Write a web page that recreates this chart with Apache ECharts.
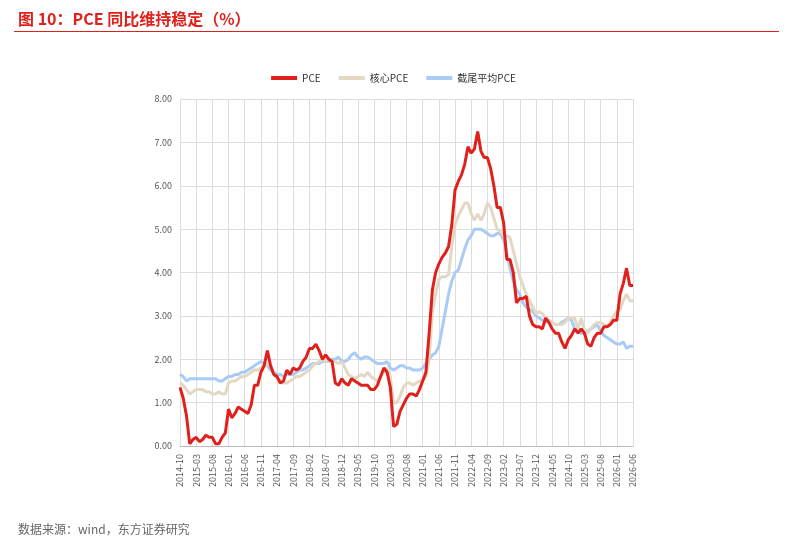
<!DOCTYPE html>
<html><head><meta charset="utf-8">
<script src="https://cdn.jsdelivr.net/npm/echarts@6/dist/echarts.min.js"></script>
<style>
body{margin:0;background:#fff;font-family:"Noto Sans CJK SC",sans-serif;}
#title{position:absolute;left:18px;top:6px;color:#e0201b;font-size:16px;font-weight:bold;}
#rule{position:absolute;left:14px;right:8px;top:31px;border-top:1px solid #e0201b;}
#src{position:absolute;left:18px;top:520px;color:#666;font-size:12px;}
#chart{position:absolute;left:0;top:0;width:787px;height:542px;}
</style></head>
<body>
<div id="chart"></div>
<div id="title">图 10：PCE 同比维持稳定（%）</div>
<div id="rule"></div>
<div id="src">数据来源：wind，东方证券研究</div>
<script>
var months = [];
(function(){ var y=2014, m=10; for (var i=0;i<141;i++){ months.push(y+'-'+(m<10?'0':'')+m); m++; if(m>12){m=1;y++;} } })();

var pce = [
  1.35,1.1,0.7,
  0.05,0.15,0.2,0.1,0.15,0.25,0.2,0.2,0.05,0.05,0.2,0.3,
  0.85,0.65,0.75,0.9,0.85,0.8,0.75,0.95,1.4,1.4,1.7,1.85,
  2.2,1.85,1.65,1.6,1.45,1.5,1.75,1.65,1.8,1.75,1.8,1.95,
  2.05,2.25,2.25,2.35,2.2,2.0,2.1,2.0,1.95,1.45,1.4,1.55,
  1.45,1.4,1.55,1.5,1.45,1.4,1.4,1.4,1.3,1.3,1.4,1.6,
  1.8,1.7,1.35,0.45,0.5,0.8,0.95,1.1,1.2,1.2,1.15,1.3,
  1.5,1.7,2.6,3.6,4.0,4.2,4.35,4.45,4.6,5.1,5.9,6.1,
  6.25,6.5,6.9,6.75,6.85,7.25,6.8,6.65,6.65,6.4,6.0,5.5,
  5.5,5.15,4.3,4.3,4.0,3.3,3.4,3.4,3.45,3.0,2.8,2.75,
  2.75,2.7,2.95,2.85,2.7,2.6,2.6,2.4,2.25,2.45,2.55,2.7,
  2.6,2.7,2.6,2.35,2.3,2.5,2.6,2.6,2.75,2.75,2.8,2.9,
  2.9,3.5,3.75,4.1,3.7,3.7
];
var corePce = [
  1.45,1.4,1.3,
  1.2,1.25,1.3,1.3,1.3,1.25,1.25,1.2,1.2,1.25,1.2,1.2,
  1.45,1.5,1.5,1.55,1.6,1.6,1.65,1.7,1.75,1.75,1.8,1.85,
  1.9,1.85,1.65,1.55,1.5,1.45,1.45,1.5,1.55,1.6,1.6,1.65,
  1.7,1.75,1.85,1.9,1.95,2.0,1.95,2.0,1.95,1.95,1.9,1.95,
  1.8,1.65,1.6,1.55,1.6,1.65,1.6,1.7,1.6,1.55,1.5,1.6,
  1.7,1.8,1.6,1.0,1.0,1.15,1.35,1.45,1.45,1.4,1.45,1.5,
  1.5,1.6,2.0,3.1,3.5,3.85,3.9,3.9,3.95,4.6,5.1,5.3,
  5.45,5.6,5.6,5.35,5.2,5.35,5.2,5.35,5.6,5.5,5.25,5.0,
  4.95,4.85,4.85,4.8,4.5,4.2,3.9,3.7,3.5,3.35,3.2,3.05,
  3.1,3.05,2.95,2.9,2.85,2.8,2.8,2.8,2.85,2.95,2.95,2.95,
  2.7,2.95,2.65,2.6,2.7,2.8,2.85,2.85,2.8,2.75,2.85,3.0,
  3.1,3.15,3.35,3.5,3.35,3.35
];
var trimmedPce = [
  1.65,1.6,1.5,
  1.55,1.55,1.55,1.55,1.55,1.55,1.55,1.55,1.55,1.5,1.5,1.55,
  1.6,1.6,1.65,1.65,1.7,1.7,1.75,1.8,1.85,1.9,1.95,1.9,
  1.85,1.75,1.7,1.65,1.65,1.6,1.65,1.65,1.65,1.7,1.75,1.75,
  1.8,1.85,1.9,1.9,1.9,1.95,1.95,1.95,2.0,2.0,2.05,1.95,
  1.95,2.0,2.1,2.15,2.05,2.0,2.05,2.05,2.0,1.95,1.9,1.9,
  1.9,1.95,1.8,1.75,1.8,1.85,1.85,1.8,1.8,1.75,1.75,1.75,
  1.8,1.9,2.0,2.1,2.15,2.3,2.7,3.1,3.5,3.8,4.0,4.05,
  4.3,4.55,4.75,4.85,5.0,5.0,5.0,4.95,4.9,4.85,4.85,4.9,
  4.9,4.75,4.45,4.1,3.8,3.6,3.5,3.3,3.2,3.15,3.1,3.0,
  2.95,2.9,2.85,2.9,2.85,2.8,2.8,2.85,2.9,2.95,2.9,2.7,
  2.65,2.6,2.6,2.65,2.7,2.75,2.8,2.65,2.55,2.5,2.45,2.4,
  2.35,2.35,2.4,2.25,2.3,2.3
];

var chart = echarts.init(document.getElementById('chart'));
var font = 'Noto Sans CJK SC';
chart.setOption({
  animation: false,
  textStyle: { fontFamily: font },
  legend: {
    top: 68, left: 'center', itemWidth: 26, itemHeight: 4, itemGap: 18,
    textStyle: { fontSize: 10, color: '#333' },
    data: [
      { name: 'PCE', icon: 'rect' },
      { name: '核心PCE', icon: 'rect' },
      { name: '截尾平均PCE', icon: 'rect' }
    ]
  },
  grid: { left: 180, right: 154, top: 99, bottom: 96 },
  xAxis: {
    type: 'category', data: months, boundaryGap: false,
    axisLine: { lineStyle: { color: '#bbb' } },
    axisTick: { show: false },
    axisLabel: { interval: 4, rotate: 90, fontSize: 9, color: '#555' },
    splitLine: { show: true, interval: 4, lineStyle: { color: '#ddd' } }
  },
  yAxis: {
    type: 'value', min: 0, max: 8, interval: 1,
    axisLine: { show: false }, axisTick: { show: false },
    axisLabel: { formatter: function(v){ return v.toFixed(2); }, fontSize: 9, color: '#555' },
    splitLine: { lineStyle: { color: '#ddd' } }
  },
  series: [
    { name: '截尾平均PCE', type: 'line', data: trimmedPce, symbol: 'none', z: 1,
      itemStyle: { color: '#a9cbf7' }, lineStyle: { color: '#a9cbf7', width: 3 } },
    { name: '核心PCE', type: 'line', data: corePce, symbol: 'none', z: 2,
      itemStyle: { color: '#e3d8c3' }, lineStyle: { color: '#e3d8c3', width: 3 } },
    { name: 'PCE', type: 'line', data: pce, symbol: 'none', z: 3,
      itemStyle: { color: '#e0201b' }, lineStyle: { color: '#e0201b', width: 3 } }
  ]
});
</script>
</body></html>
